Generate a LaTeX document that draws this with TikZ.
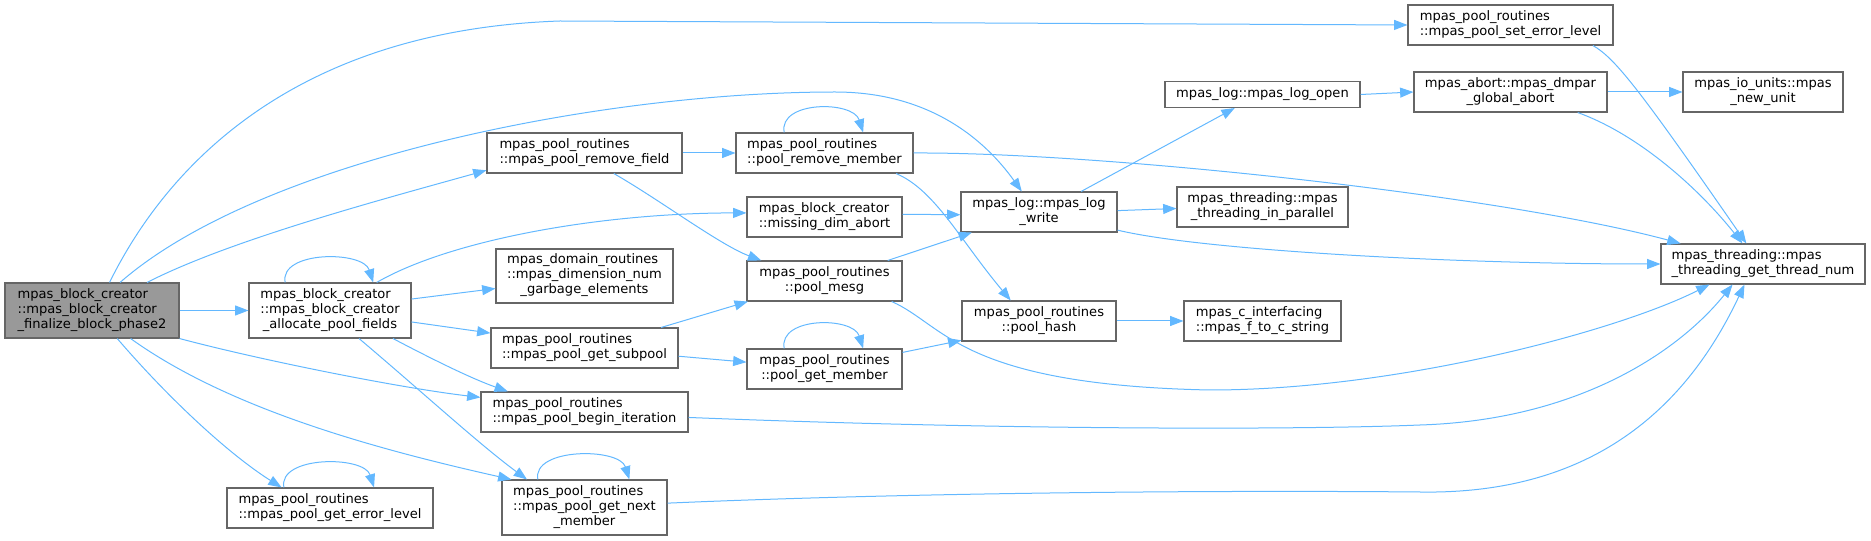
\documentclass[tikz,border=0pt]{standalone}
\usepackage{fontspec}
\setmainfont{DejaVu Sans}
\usetikzlibrary{arrows.meta}
\definecolor{edgeblue}{HTML}{63B8FF}
\definecolor{nodegray}{HTML}{666666}
\definecolor{rootgray}{HTML}{999999}
\newcommand{\fnlabel}[2]{\begin{tabular}{@{}l@{}}#1\\\multicolumn{1}{@{}c@{}}{#2}\end{tabular}}
\tikzset{
  fn/.style={draw=nodegray, fill=white, line width=0.8pt, inner sep=0pt,
             font=\fontsize{9.8}{11.25}\selectfont},
  root/.style={fn, fill=rootgray},
  sz/.style 2 args={minimum width=#1*0.75pt, minimum height=#2*0.75pt},
  call/.style={-{Triangle[length=10pt, width=7.5pt]}, draw=edgeblue, line width=0.75pt}
}

\begin{document}
\begin{tikzpicture}[x=0.75pt, y=-0.75pt]
        \useasboundingbox (0,0) rectangle (1871,541);
        % functions
        \node[root, sz={174}{55}] (main) at (92,310.5) {\fnlabel{mpas\_block\_creator\\::mpas\_block\_creator}{\_finalize\_block\_phase2}};
        \node[fn, sz={162}{55}] (alloc) at (330,310.5) {\fnlabel{mpas\_block\_creator\\::mpas\_block\_creator}{\_allocate\_pool\_fields}};
        \node[fn, sz={206}{40}] (geterr) at (330,508) {\fnlabel{mpas\_pool\_routines}{::mpas\_pool\_get\_error\_level}};
        \node[fn, sz={195}{40}] (rmfield) at (584.5,153) {\fnlabel{mpas\_pool\_routines}{::mpas\_pool\_remove\_field}};
        \node[fn, sz={177}{40}] (rmmember) at (824.5,153) {\fnlabel{mpas\_pool\_routines}{::pool\_remove\_member}};
        \node[fn, sz={155}{40}] (missdim) at (824.5,217) {\fnlabel{mpas\_block\_creator}{::missing\_dim\_abort}};
        \node[fn, sz={177}{54}] (dimnum) at (584.5,276) {\fnlabel{mpas\_domain\_routines\\::mpas\_dimension\_num}{\_garbage\_elements}};
        \node[fn, sz={155}{40}] (mesg) at (824.5,281) {\fnlabel{mpas\_pool\_routines}{::pool\_mesg}};
        \node[fn, sz={187}{40}] (subpool) at (584.5,348) {\fnlabel{mpas\_pool\_routines}{::mpas\_pool\_get\_subpool}};
        \node[fn, sz={155}{40}] (getmember) at (824.5,369) {\fnlabel{mpas\_pool\_routines}{::pool\_get\_member}};
        \node[fn, sz={207}{40}] (beginit) at (584.5,412) {\fnlabel{mpas\_pool\_routines}{::mpas\_pool\_begin\_iteration}};
        \node[fn, sz={165}{55}] (nextmember) at (584.5,507.5) {\fnlabel{mpas\_pool\_routines\\::mpas\_pool\_get\_next}{\_member}};
        \node[fn, sz={156}{40}] (logwrite) at (1039,212) {\fnlabel{mpas\_log::mpas\_log}{\_write}};
        \node[fn, sz={195}{26}] (logopen) at (1262.5,94.5) {mpas\_log::mpas\_log\_open};
        \node[fn, sz={171}{40}] (parallel) at (1262.5,207) {\fnlabel{mpas\_threading::mpas}{\_threading\_in\_parallel}};
        \node[fn, sz={154}{40}] (hash) at (1039,321) {\fnlabel{mpas\_pool\_routines}{::pool\_hash}};
        \node[fn, sz={157}{40}] (cstring) at (1262.5,321) {\fnlabel{mpas\_c\_interfacing}{::mpas\_f\_to\_c\_string}};
        \node[fn, sz={205}{40}] (seterr) at (1510.5,25) {\fnlabel{mpas\_pool\_routines}{::mpas\_pool\_set\_error\_level}};
        \node[fn, sz={193}{40}] (gabort) at (1510.5,92) {\fnlabel{mpas\_abort::mpas\_dmpar}{\_global\_abort}};
        \node[fn, sz={160}{40}] (newunit) at (1763,92) {\fnlabel{mpas\_io\_units::mpas}{\_new\_unit}};
        \node[fn, sz={204}{40}] (threadnum) at (1763,264) {\fnlabel{mpas\_threading::mpas}{\_threading\_get\_thread\_num}};
        % calls from the root
        \draw[call] (main.58) .. controls (170,160) and (300,30) .. (560,21) -- (seterr.west);
        \draw[call] (main.45) .. controls (260,160) and (600,92) .. (835,92) .. controls (930,92) and (985,140) .. (logwrite.130);
        \draw[call] (main.27) .. controls (230,240) and (380,200) .. (rmfield.190);
        \draw[call] (main) -- (alloc);
        \draw[call] (main.south east) .. controls (260,360) and (400,388) .. (beginit.172);
        \draw[call] (main.-36) .. controls (230,410) and (380,450) .. (nextmember.159);
        \draw[call] (main.-48) .. controls (170,400) and (230,455) .. (geterr.157);
        % allocate_pool_fields
        \draw[call] (alloc.148) .. controls +(-6,-32) and +(-10,-32) .. (alloc.33);
        \draw[call] (alloc.31) .. controls (450,240) and (600,213) .. (missdim.177);
        \draw[call] (alloc.8) -- (dimnum.188);
        \draw[call] (alloc.-8) -- (subpool.171);
        \draw[call] (alloc.-24) .. controls (430,358) and (470,378) .. (beginit.165);
        \draw[call] (alloc.-44) .. controls (420,390) and (480,445) .. (nextmember.154);
        % pool routines
        \draw[call] (rmfield) -- (rmmember);
        \draw[call] (rmfield.-35) .. controls (660,200) and (720,245) .. (mesg.162);
        \draw[call] (rmmember.153) .. controls +(-6,-32) and +(-10,-32) .. (rmmember.28);
        \draw[call] (rmmember.east) .. controls (1100,152) and (1500,195) .. (threadnum.166);
        \draw[call] (rmmember.-16) .. controls (935,190) and (960,240) .. (hash.144);
        \draw[call] (missdim.2) -- (logwrite.182);
        \draw[call] (mesg.18) -- (logwrite.197);
        \draw[call] (mesg.-17) .. controls (945,325) and (960,385) .. (1210,390) .. controls (1400,390) and (1620,330) .. (threadnum.201);
        \draw[call] (subpool.15) -- (mesg.195);
        \draw[call] (subpool.-5) -- (getmember.175);
        \draw[call] (getmember.153) .. controls +(-6,-32) and +(-10,-32) .. (getmember.28);
        \draw[call] (getmember.12) -- (hash.194);
        \draw[call] (beginit.-3) .. controls (1000,430) and (1300,430) .. (1420,425) .. controls (1580,420) and (1680,350) .. (threadnum.214);
        \draw[call] (nextmember.149) .. controls +(-6,-32) and +(-10,-32) .. (nextmember.32);
        \draw[call] (nextmember.3) .. controls (900,493) and (1200,490) .. (1420,492) .. controls (1600,495) and (1690,400) .. (threadnum.228);
        \draw[call] (geterr.156) .. controls +(-6,-32) and +(-10,-32) .. (geterr.25);
        \draw[call] (hash) -- (cstring);
        % logging and threading
        \draw[call] (logwrite.26) -- (logopen.206);
        \draw[call] (logwrite.1) -- (parallel.181);
        \draw[call] (logwrite.-13) .. controls (1200,250) and (1450,264) .. (threadnum.west);
        \draw[call] (logopen.east) -- (gabort.west);
        \draw[call] (gabort) -- (newunit);
        \draw[call] (gabort.-17) .. controls (1640,135) and (1700,190) .. (threadnum.135);
        \draw[call] (seterr.-14) .. controls (1615,58) and (1640,90) .. (threadnum.129);
      \end{tikzpicture}
\end{document}
